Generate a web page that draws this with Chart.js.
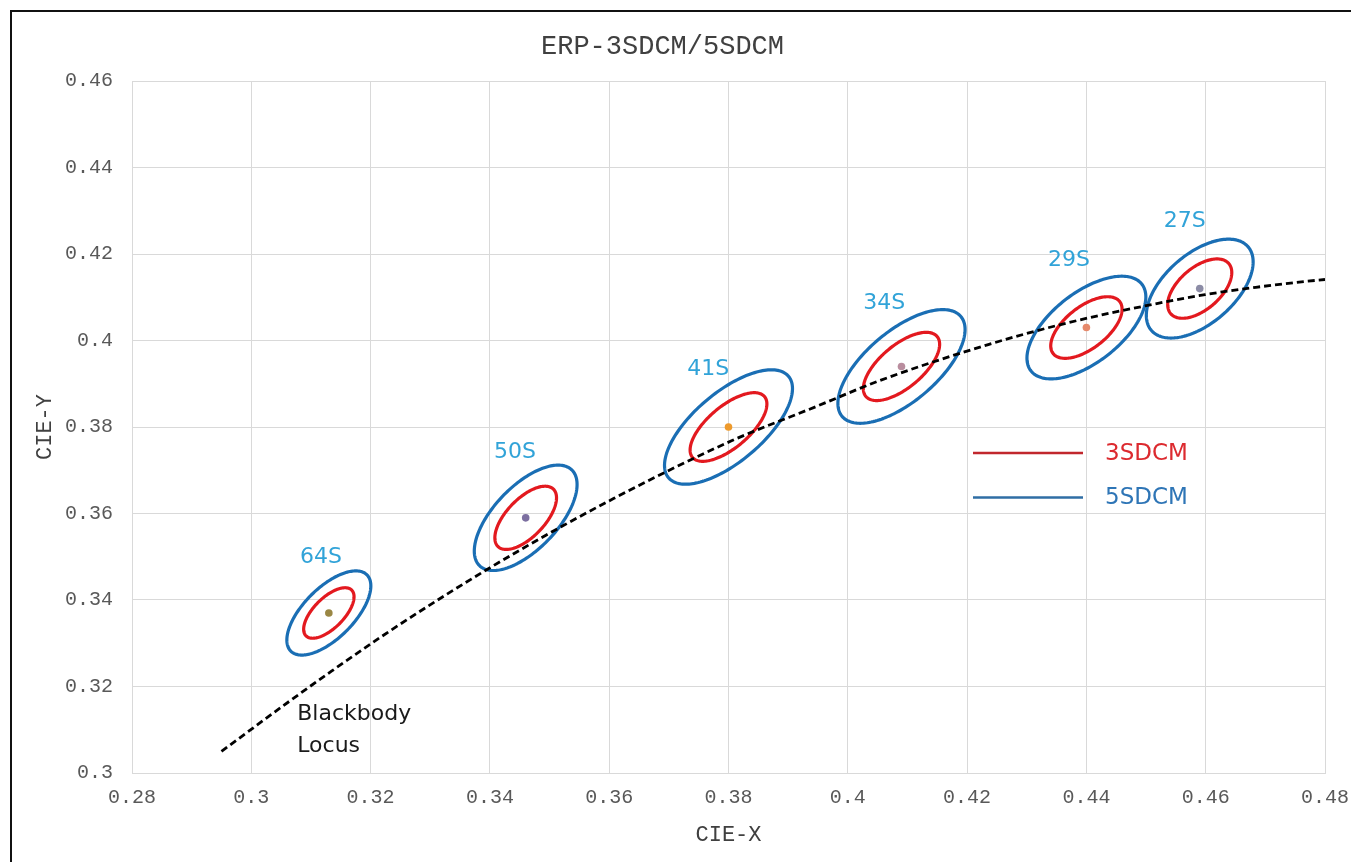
<!DOCTYPE html>
<html>
<head>
<meta charset="utf-8">
<script src="https://cdn.jsdelivr.net/npm/chart.js@4.4.1/dist/chart.umd.min.js"></script>
<style>
html,body{margin:0;padding:0;background:#fff;overflow:hidden}
#wrap{position:relative;width:1351px;height:862px}
</style>
</head>
<body>
<div id="wrap"><canvas id="c" width="1351" height="862"></canvas></div>
<script>
// ---------- data ----------
const chartTitle = 'ERP-3SDCM/5SDCM';
const xAxisTitle = 'CIE-X';
const yAxisTitle = 'CIE-Y';

const xTickValues = [0.28, 0.30, 0.32, 0.34, 0.36, 0.38, 0.40, 0.42, 0.44, 0.46, 0.48];
const xTickLabels = ['0.28', '0.3', '0.32', '0.34', '0.36', '0.38', '0.4', '0.42', '0.44', '0.46', '0.48'];
const yTickValues = [0.30, 0.32, 0.34, 0.36, 0.38, 0.40, 0.42, 0.44, 0.46];
const yTickLabels = ['0.3', '0.32', '0.34', '0.36', '0.38', '0.4', '0.42', '0.44', '0.46'];

// colour-point centres
const pointNames = ['64S', '50S', '41S', '34S', '29S', '27S'];
const pointX = [0.313, 0.346, 0.380, 0.409, 0.440, 0.459];
const pointY = [0.337, 0.359, 0.380, 0.394, 0.403, 0.412];
const pointColors = ['#9A8744', '#7C6FA0', '#EE9A2C', '#B98D9E', '#E68A6C', '#8C8CA6'];

// MacAdam-type ellipse metric coefficients (x 1e4):  g11*dx^2 + 2*g12*dx*dy + g22*dy^2 = n^2
const g11 = [86, 56, 39.5, 38, 39, 44];
const g12 = [-40, -25, -21.5, -20, -19.5, -18.6];
const g22 = [45, 28, 26, 25, 27.5, 27];
const ellipseSteps = [3, 5];
const ellipseNames = ['3SDCM', '5SDCM'];

// label anchors (data units)
const labelX = [0.3117, 0.3442, 0.3766, 0.4061, 0.4371, 0.4565];
const labelY = [0.3499, 0.3742, 0.3934, 0.4087, 0.4186, 0.4276];

// blackbody (Planckian) locus
const locusX = [0.2950, 0.3064, 0.3135, 0.3221, 0.3324, 0.3451, 0.3608, 0.3805, 0.3950, 0.4053, 0.4234, 0.4369, 0.4520, 0.4599, 0.4684, 0.4770, 0.4800];
const locusY = [0.3050, 0.3166, 0.3236, 0.3318, 0.3410, 0.3516, 0.3635, 0.3768, 0.3849, 0.3907, 0.3990, 0.4041, 0.4086, 0.4106, 0.4123, 0.4137, 0.4141];
const locusLabel = ['Blackbody', 'Locus'];
const locusLabelX = 0.3077;
const locusLabelY = 0.3123;

// ---------- styles ----------
const monoFont = "'Liberation Mono', 'DejaVu Sans Mono', monospace";
const sansFont = "'DejaVu Sans', 'Open Sans', sans-serif";
const ellipseColors = ['#E3191F', '#1A6EB4'];
const legendLineColors = ['#C1272D', '#2F6EA5'];
const legendTextColors = ['#DC2A2F', '#2E75B6'];
const labelColor = '#31A3D8';
const gridColor = '#D9D9D9';

const framePlugin = {
  id: 'frame',
  beforeDraw(chart) {
    const ctx = chart.ctx;
    ctx.save();
    ctx.fillStyle = '#ffffff';
    ctx.fillRect(0, 0, chart.width, chart.height);
    ctx.fillStyle = '#111111';
    ctx.fillRect(10, 10, 2, chart.height);
    ctx.fillRect(10, 10, chart.width, 2);
    ctx.restore();
  }
};

const ellipsePlugin = {
  id: 'ellipses',
  beforeDatasetsDraw(chart) {
    const ctx = chart.ctx, xs = chart.scales.x, ys = chart.scales.y, a = chart.chartArea;
    ctx.save();
    ctx.beginPath();
    ctx.rect(a.left, a.top, a.right - a.left, a.bottom - a.top);
    ctx.clip();
    ctx.lineWidth = 3.2;
    ctx.lineJoin = 'round';
    for (let i = 0; i < pointX.length; i++) {
      const A = g11[i] * 1e4, B = g12[i] * 1e4, C = g22[i] * 1e4;
      const l11 = Math.sqrt(A), l21 = B / l11, l22 = Math.sqrt(C - l21 * l21);
      for (let s = 0; s < ellipseSteps.length; s++) {
        const n = ellipseSteps[s];
        ctx.beginPath();
        const N = 180;
        for (let k = 0; k <= N; k++) {
          const t = 2 * Math.PI * k / N;
          const u1 = Math.cos(t), u2 = Math.sin(t);
          const dx = n * (u1 / l11 - u2 * l21 / (l11 * l22));
          const dy = n * (u2 / l22);
          const px = xs.getPixelForValue(pointX[i] + dx);
          const py = ys.getPixelForValue(pointY[i] + dy);
          if (k === 0) ctx.moveTo(px, py); else ctx.lineTo(px, py);
        }
        ctx.closePath();
        ctx.strokeStyle = ellipseColors[s];
        ctx.stroke();
      }
    }
    ctx.restore();
  },
  afterDatasetsDraw(chart) {
    const ctx = chart.ctx, xs = chart.scales.x, ys = chart.scales.y;
    ctx.save();
    // point labels
    ctx.font = '22px ' + sansFont;
    ctx.fillStyle = labelColor;
    ctx.textAlign = 'center';
    ctx.textBaseline = 'middle';
    for (let i = 0; i < pointNames.length; i++) {
      ctx.fillText(pointNames[i], xs.getPixelForValue(labelX[i]), ys.getPixelForValue(labelY[i]));
    }
    // locus label
    ctx.font = '22px ' + sansFont;
    ctx.fillStyle = '#1a1a1a';
    ctx.textAlign = 'left';
    ctx.textBaseline = 'alphabetic';
    const lx = xs.getPixelForValue(locusLabelX), ly = ys.getPixelForValue(locusLabelY);
    locusLabel.forEach((t, j) => ctx.fillText(t, lx, ly + j * 32));
    // legend
    const legY = [453, 497.5];
    ctx.font = '23px ' + sansFont;
    ctx.textBaseline = 'middle';
    for (let s = 0; s < ellipseNames.length; s++) {
      ctx.strokeStyle = legendLineColors[s];
      ctx.lineWidth = 2.5;
      ctx.beginPath();
      ctx.moveTo(973, legY[s]);
      ctx.lineTo(1083, legY[s]);
      ctx.stroke();
      ctx.fillStyle = legendTextColors[s];
      ctx.fillText(ellipseNames[s], 1105, legY[s] + 1);
    }
    ctx.restore();
  }
};

new Chart(document.getElementById('c'), {
  type: 'scatter',
  data: {
    datasets: [
      {
        label: 'Blackbody Locus',
        data: locusX.map((x, i) => ({ x: x, y: locusY[i] })),
        showLine: true,
        borderColor: '#000000',
        borderWidth: 2.8,
        borderDash: [7, 4],
        pointRadius: 0,
        cubicInterpolationMode: 'monotone',
        fill: false
      },
      {
        label: 'Centres',
        data: pointX.map((x, i) => ({ x: x, y: pointY[i] })),
        pointRadius: 3.8,
        pointBackgroundColor: pointColors,
        pointBorderWidth: 0,
        showLine: false
      }
    ]
  },
  options: {
    responsive: false,
    animation: false,
    devicePixelRatio: 1,
    layout: { padding: { left: 0, right: 26, top: 0, bottom: 0 } },
    plugins: {
      legend: { display: false },
      tooltip: { enabled: false },
      title: {
        display: true,
        text: chartTitle,
        color: '#404040',
        font: { family: monoFont, size: 27, weight: 'normal' },
        padding: { top: 31, bottom: 17.6 }
      }
    },
    scales: {
      x: {
        type: 'linear',
        min: 0.28,
        max: 0.48,
        afterBuildTicks: s => { s.ticks = xTickValues.map(v => ({ value: v })); },
        afterFit: s => { s.height = 89; s.paddingLeft = 0; s.paddingRight = 0; },
        ticks: {
          callback: (v, i) => xTickLabels[i],
          color: '#595959',
          font: { family: monoFont, size: 20 },
          padding: 13,
          maxRotation: 0,
          autoSkip: false
        },
        grid: { color: gridColor, drawTicks: false, lineWidth: 1 },
        border: { color: gridColor },
        title: {
          display: true,
          text: xAxisTitle,
          color: '#404040',
          font: { family: monoFont, size: 22 },
          padding: { top: 0, bottom: 14 }
        }
      },
      y: {
        type: 'linear',
        min: 0.30,
        max: 0.46,
        afterBuildTicks: s => { s.ticks = yTickValues.map(v => ({ value: v })); },
        afterFit: s => { s.width = 132; s.paddingTop = 0; s.paddingBottom = 0; },
        ticks: {
          callback: (v, i) => yTickLabels[i],
          color: '#595959',
          font: { family: monoFont, size: 20 },
          padding: 19,
          autoSkip: false
        },
        grid: { color: gridColor, drawTicks: false, lineWidth: 1 },
        border: { color: gridColor },
        title: {
          display: true,
          text: yAxisTitle,
          color: '#404040',
          font: { family: monoFont, size: 22 },
          padding: { top: 32, bottom: 0 }
        }
      }
    }
  },
  plugins: [framePlugin, ellipsePlugin]
});
</script>
</body>
</html>
